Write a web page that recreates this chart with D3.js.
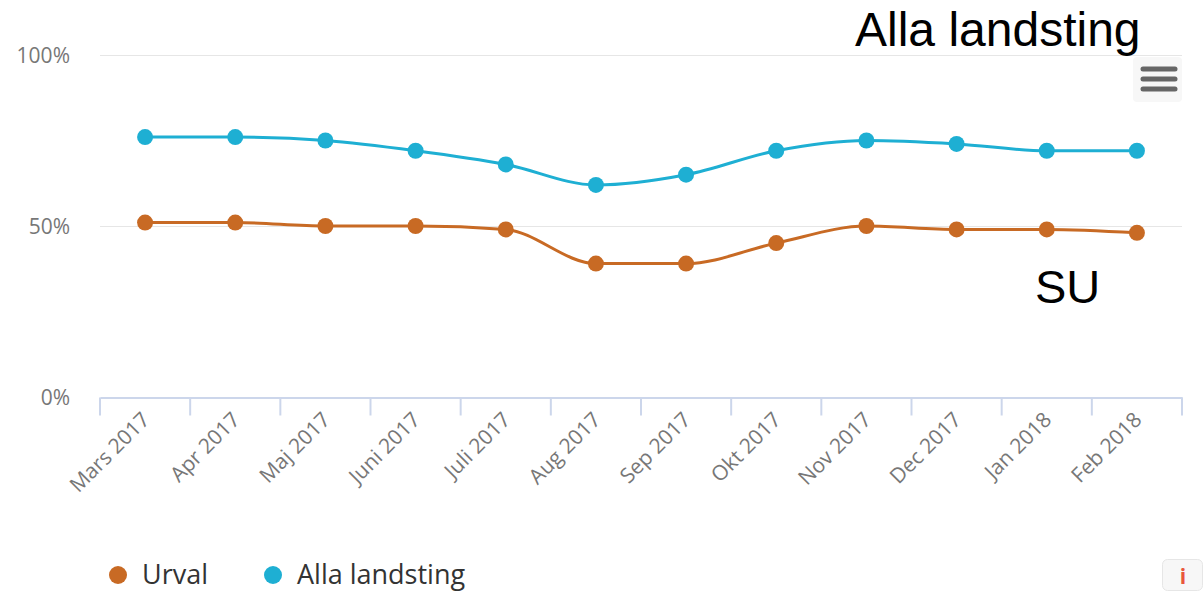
<!DOCTYPE html>
<html>
<head>
<meta charset="utf-8">
<script src="https://cdn.jsdelivr.net/npm/d3@7"></script>
<style>
  body { margin: 0; background: #fff; }
  svg { display: block; font-family: "Open Sans", sans-serif; }
</style>
</head>
<body>
<div id="chart"></div>
<script>
var months = ["Mars 2017", "Apr 2017", "Maj 2017", "Juni 2017", "Juli 2017", "Aug 2017",
              "Sep 2017", "Okt 2017", "Nov 2017", "Dec 2017", "Jan 2018", "Feb 2018"];
var urval = [51, 51, 50, 50, 49, 39, 39, 45, 50, 49, 49, 48];
var alla = [76, 76, 75, 72, 68, 62, 65, 72, 75, 74, 72, 72];
var yTicks = [0, 50, 100];
var seriesNames = ["Urval", "Alla landsting"];
var seriesColors = ["#c86a24", "#1eafd3"];

var width = 1204, height = 591;
var margin = {top: 55, right: 22, bottom: 194, left: 100};

var svg = d3.select("#chart").append("svg")
    .attr("width", width)
    .attr("height", height);

var x = d3.scaleBand()
    .domain(months)
    .range([margin.left, width - margin.right])
    .padding(0);

var y = d3.scaleLinear()
    .domain([0, 100])
    .range([height - margin.bottom, margin.top]);

// gridlines
svg.append("g")
  .selectAll("line")
    .data(yTicks.filter(function(d) { return d > 0; }))
  .enter().append("line")
    .attr("x1", margin.left)
    .attr("x2", width - margin.right)
    .attr("y1", function(d) { return y(d) + 0.5; })
    .attr("y2", function(d) { return y(d) + 0.5; })
    .style("stroke", "#e6e6e6")
    .style("stroke-width", 1);

// y labels
svg.append("g")
  .selectAll("text")
    .data(yTicks)
  .enter().append("text")
    .attr("x", 70)
    .attr("y", function(d) { return y(d) + 8; })
    .attr("text-anchor", "end")
    .style("font-size", "21px")
    .style("fill", "#777")
    .text(function(d) { return d + "%"; });

// x axis
var xAxis = svg.append("g")
    .attr("transform", "translate(0," + (y(0) + 0.5) + ")")
    .call(d3.axisBottom(x).tickSize(0).tickFormat(""));
xAxis.select(".domain").style("stroke", "#ccd6eb").style("stroke-width", 2);

var edges = months.map(function(m) { return x(m); }).concat([x.range()[1]]);
xAxis.selectAll(".edge")
    .data(edges)
  .enter().append("line")
    .attr("class", "edge")
    .attr("x1", function(d) { return d; })
    .attr("x2", function(d) { return d; })
    .attr("y1", 0)
    .attr("y2", 18)
    .style("stroke", "#ccd6eb")
    .style("stroke-width", 2);

svg.append("g")
  .selectAll("text")
    .data(months)
  .enter().append("text")
    .attr("transform", function(d) {
      return "translate(" + (x(d) + x.bandwidth() / 2 + 6) + "," + (y(0) + 24) + ") rotate(-45)";
    })
    .attr("text-anchor", "end")
    .style("font-size", "21px")
    .style("fill", "#777")
    .text(function(d) { return d; });

// lines
var line = d3.line()
    .x(function(d, i) { return x(months[i]) + x.bandwidth() / 2; })
    .y(function(d) { return y(d); })
    .curve(d3.curveMonotoneX);

[urval, alla].forEach(function(vals, k) {
  var g = svg.append("g");
  g.append("path")
      .datum(vals)
      .attr("d", line)
      .style("fill", "none")
      .style("stroke", seriesColors[k])
      .style("stroke-width", 3);
  g.selectAll("circle")
      .data(vals)
    .enter().append("circle")
      .attr("cx", function(d, i) { return x(months[i]) + x.bandwidth() / 2; })
      .attr("cy", function(d) { return y(d); })
      .attr("r", 8)
      .style("fill", seriesColors[k]);
});

// legend
var legendX = [118, 273];
seriesNames.forEach(function(name, k) {
  svg.append("circle")
      .attr("cx", legendX[k])
      .attr("cy", 575)
      .attr("r", 9)
      .style("fill", seriesColors[k]);
  svg.append("text")
      .attr("x", legendX[k] + 24)
      .attr("y", 584)
      .style("font-size", "27px")
      .style("fill", "#333")
      .text(name);
});

// menu button
svg.append("rect")
    .attr("x", 1133).attr("y", 57)
    .attr("width", 49).attr("height", 45)
    .attr("rx", 4)
    .style("fill", "#f7f7f7");
[69, 79, 89].forEach(function(yy) {
  svg.append("line")
      .attr("x1", 1143).attr("x2", 1175)
      .attr("y1", yy).attr("y2", yy)
      .style("stroke", "#666")
      .style("stroke-width", 5)
      .style("stroke-linecap", "round");
});

// info button
svg.append("rect")
    .attr("x", 1162.5).attr("y", 559.5)
    .attr("width", 40).attr("height", 31)
    .attr("rx", 5)
    .style("fill", "#f7f7f7")
    .style("stroke", "#e6e6e6");
svg.append("text")
    .attr("x", 1183).attr("y", 584)
    .attr("text-anchor", "middle")
    .style("font-size", "21px")
    .style("font-weight", "bold")
    .style("fill", "#e9573b")
    .text("i");

// annotations
svg.append("text")
    .attr("x", 855).attr("y", 46)
    .style("font-family", "'Liberation Sans', Arial, sans-serif")
    .style("font-size", "48px")
    .style("fill", "#000")
    .text("Alla landsting");
svg.append("text")
    .attr("x", 1035).attr("y", 303)
    .style("font-family", "'Liberation Sans', Arial, sans-serif")
    .style("font-size", "47px")
    .style("fill", "#000")
    .text("SU");
</script>
</body>
</html>
